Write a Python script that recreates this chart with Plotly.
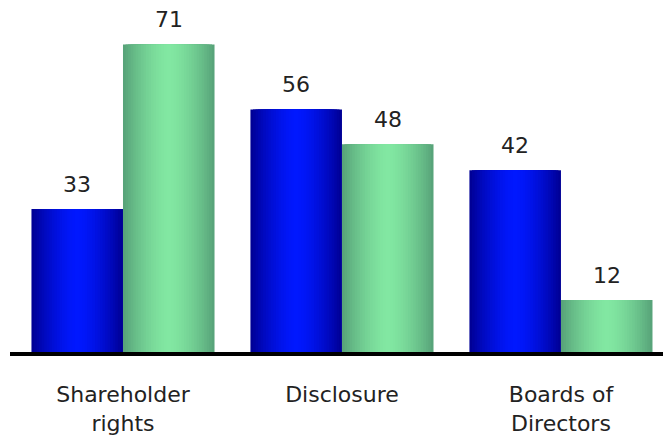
import plotly.graph_objects as go

categories = ["Shareholder<br>rights", "Disclosure", "Boards of<br>Directors"]
series_a = [33, 56, 42]   # blue
series_b = [71, 48, 12]   # green

BAR_W = 0.418
N_LAYERS = 18

def lerp(c1, c2, t):
    return "rgb(%d,%d,%d)" % tuple(round(a + (b - a) * t) for a, b in zip(c1, c2))

blue_center, blue_edge = (0, 24, 255), (0, 0, 150)
green_center, green_edge = (130, 232, 162), (88, 164, 122)

fig = go.Figure()
xs = list(range(len(categories)))

for values, center_off, c_center, c_edge in [
    (series_a, -BAR_W / 2, blue_center, blue_edge),
    (series_b, BAR_W / 2, green_center, green_edge),
]:
    for k in range(N_LAYERS):
        frac = 1 - k / N_LAYERS
        w = BAR_W * frac
        t = frac ** 1.6
        fig.add_trace(go.Bar(
            x=xs, y=values,
            width=[w] * len(xs),
            offset=[center_off - w / 2] * len(xs),
            marker=dict(color=lerp(c_center, c_edge, t), line=dict(width=0)),
            showlegend=False, hoverinfo="skip",
        ))
    for i, v in enumerate(values):
        fig.add_annotation(
            x=xs[i] + center_off, y=v, text=str(v), showarrow=False,
            yanchor="middle", yshift=25,
            font=dict(family="DejaVu Sans", size=22, color="#222222"),
        )

fig.update_layout(
    width=663, height=441,
    barmode="overlay",
    paper_bgcolor="white", plot_bgcolor="white",
    margin=dict(l=10, r=0, t=0, b=89),
    font=dict(family="DejaVu Sans", size=22, color="#222222"),
    showlegend=False,
)
fig.update_xaxes(
    range=[-0.516, 2.466],
    tickvals=xs, ticktext=categories,
    showgrid=False, zeroline=False,
    showline=True, linewidth=4, linecolor="black",
    ticks="", ticklabelstandoff=20,
    tickfont=dict(family="DejaVu Sans", size=22, color="#222222"),
)
fig.update_yaxes(range=[0, 81.3], visible=False, showgrid=False, zeroline=False)

fig.write_html(
    "out.html",
    config={"displayModeBar": False},
    post_script="document.body.style.margin='0';document.body.style.overflow='hidden';",
)
